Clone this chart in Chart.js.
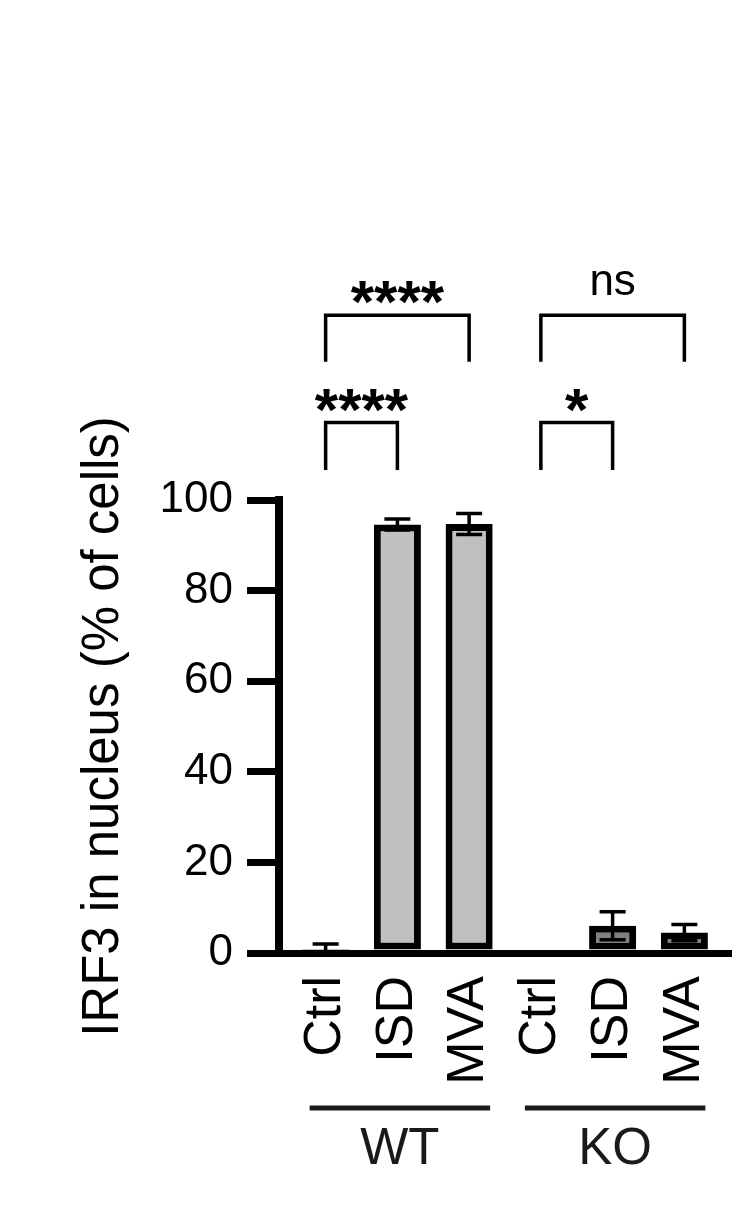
<!DOCTYPE html>
<html>
<head>
<meta charset="utf-8">
<script src="https://cdn.jsdelivr.net/npm/chart.js@4.4.1/dist/chart.umd.min.js"></script>
<style>
html,body{margin:0;padding:0;background:#fff;}
#irf3Chart{display:block;}
</style>
</head>
<body>
<canvas id="irf3Chart" width="744" height="1206"></canvas>
<script>
// values (mean and SD, % of cells)
const treatments = ["Ctrl", "ISD", "MVA", "Ctrl", "ISD", "MVA"];
const positions = [1, 2, 3, 4, 5, 6];
const meanValues = [0.4, 94.6, 94.7, 0, 6.0, 4.5];
const sdValues = [1.6, 1.2, 2.3, 0, 3.1, 1.8];
const yTicks = [0, 20, 40, 60, 80, 100];

// genotype groups (first and last bar of each)
const genotypes = ["WT", "KO"];
const groupFirst = [1, 4];
const groupLast = [3, 6];

// significance brackets
const sigFrom = [1, 1, 4, 4];
const sigTo = [2, 3, 5, 6];
const sigLevel = [0, 1, 0, 1];
const sigLabels = ["****", "****", "*", "ns"];

const FONT = "'Liberation Sans', Arial, Helvetica, sans-serif";
const groupColors = ["#c0c0c0", "#808080"];

function groupOf(p) {
	for (let g = 0; g < genotypes.length; g++) {
		if (p >= groupFirst[g] && p <= groupLast[g]) return g;
	}
	return 0;
}

const extras = {
	id: "extras",
	afterDatasetsDraw(chart) {
		const ctx = chart.ctx;
		const xs = chart.scales.x, ys = chart.scales.y;
		ctx.save();
		ctx.strokeStyle = "#000";
		ctx.lineCap = "butt";

		// error bars
		ctx.lineWidth = 3.5;
		positions.forEach((p, i) => {
			if (!sdValues[i]) return;
			const cx = xs.getPixelForValue(p);
			const top = ys.getPixelForValue(meanValues[i] + sdValues[i]);
			const low = meanValues[i] - sdValues[i];
			const bot = ys.getPixelForValue(Math.max(low, 0));
			ctx.beginPath();
			ctx.moveTo(cx, top); ctx.lineTo(cx, bot);
			ctx.moveTo(cx - 13, top); ctx.lineTo(cx + 13, top);
			if (low > 0) { ctx.moveTo(cx - 13, bot); ctx.lineTo(cx + 13, bot); }
			ctx.stroke();
		});

		// brackets + stars
		ctx.lineWidth = 3.5;
		ctx.lineJoin = "miter";
		sigFrom.forEach((a, i) => {
			const x1 = xs.getPixelForValue(a), x2 = xs.getPixelForValue(sigTo[i]);
			const yt = ys.getPixelForValue(117.1 + sigLevel[i] * 23.7);
			const yb = ys.getPixelForValue(106.6 + sigLevel[i] * 23.9);
			ctx.beginPath();
			ctx.moveTo(x1, yb); ctx.lineTo(x1, yt); ctx.lineTo(x2, yt); ctx.lineTo(x2, yb);
			ctx.stroke();

			const stars = sigLabels[i].indexOf("*") >= 0;
			ctx.font = stars ? "bold 60px " + FONT : "44px " + FONT;
			ctx.fillStyle = "#000";
			ctx.textAlign = "center";
			ctx.textBaseline = "alphabetic";
			const m = ctx.measureText(sigLabels[i]);
			const gap = stars ? 11 : 20;
			ctx.fillText(sigLabels[i], (x1 + x2) / 2, yt - gap - m.actualBoundingBoxDescent);
		});

		// genotype lines and names
		const bottom = chart.chartArea.bottom;
		genotypes.forEach((g, i) => {
			const xa = xs.getPixelForValue(groupFirst[i]) - 16;
			const xb = xs.getPixelForValue(groupLast[i]) + 21;
			ctx.strokeStyle = "#1a1a1a";
			ctx.lineWidth = 5;
			ctx.beginPath();
			ctx.moveTo(xa, bottom + 155); ctx.lineTo(xb, bottom + 155);
			ctx.stroke();
			ctx.font = "51px " + FONT;
			ctx.fillStyle = "#1a1a1a";
			ctx.textAlign = "center";
			ctx.textBaseline = "alphabetic";
			ctx.fillText(g, (xa + xb) / 2, bottom + 211);
		});
		ctx.restore();
	}
};

function renderChart() {
	const ctx = document.querySelector("#irf3Chart").getContext("2d");
	new Chart(ctx, {
		type: "bar",
		data: {
			datasets: [{
				data: positions.map((p, i) => ({x: p, y: meanValues[i]})),
				backgroundColor: positions.map(p => groupColors[groupOf(p)]),
				borderColor: "#000",
				borderWidth: 7,
				borderSkipped: false,
				barPercentage: 0.656,
				categoryPercentage: 1
			}]
		},
		options: {
			responsive: false,
			animation: false,
			layout: {padding: {top: 500, right: 13, bottom: 0, left: 0}},
			plugins: {legend: {display: false}, tooltip: {enabled: false}},
			scales: {
				x: {
					type: "linear",
					offset: false,
					min: 0.35,
					max: 6.65,
					afterBuildTicks: s => { s.ticks = positions.map(v => ({value: v})); },
					afterFit: s => { s.height = 253; s.paddingLeft = 0; s.paddingRight = 0; },
					grid: {display: false, drawTicks: false, offset: false},
					border: {display: true, color: "#000", width: 7},
					ticks: {
						autoSkip: false, minRotation: 90, maxRotation: 90, padding: 23,
						color: "#000", font: {family: FONT, size: 52},
						callback: v => treatments[v - 1] || ""
					}
				},
				y: {
					min: 0,
					max: 100,
					afterBuildTicks: s => { s.ticks = yTicks.map(v => ({value: v})); },
					afterFit: s => { s.width = 279; s.paddingTop = 0; s.paddingBottom = 0; },
					grid: {drawOnChartArea: false, drawTicks: true, tickLength: 32, lineWidth: 7, color: "#000"},
					border: {color: "#000", width: 8},
					ticks: {padding: 14, color: "#000", font: {family: FONT, size: 44}},
					title: {
						display: true, text: "IRF3 in nucleus (% of cells)", color: "#000",
						font: {family: FONT, size: 51}, padding: {top: 73, bottom: 0}
					}
				}
			}
		},
		plugins: [extras]
	});
}

renderChart();
</script>
</body>
</html>
